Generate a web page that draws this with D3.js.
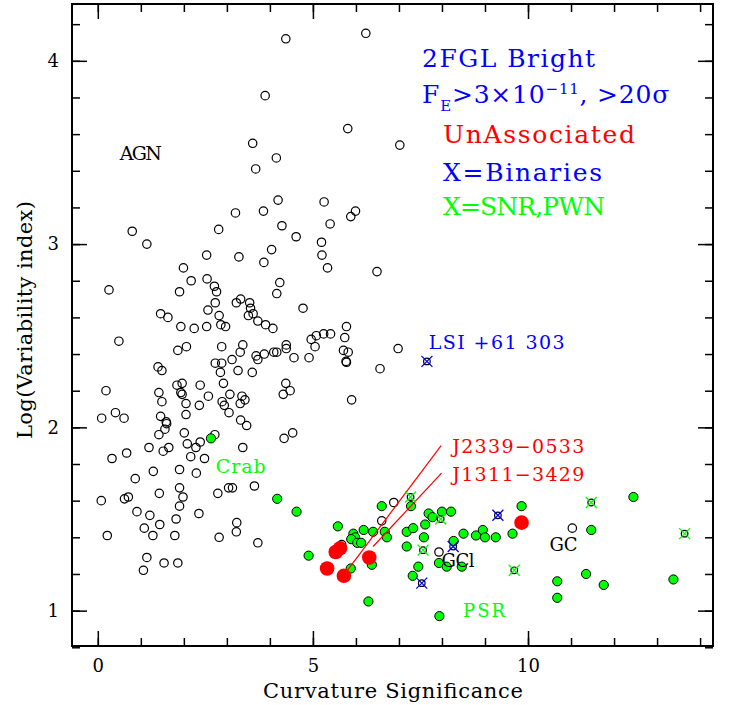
<!DOCTYPE html>
<html>
<head>
<meta charset="utf-8">
<script src="https://cdn.jsdelivr.net/npm/d3@7"></script>
<style>
body { margin: 0; background: #fff; }
text { font-family: "DejaVu Serif", serif; }
</style>
</head>
<body>
<div id="chart"></div>
<script>
// AGN (open circles): [curvature significance, log variability index]
var agnPoints = [
  [4.37,4.12],[6.23,4.15],[3.89,3.81],[5.81,3.63],[3.60,3.55],[4.15,3.47],[3.67,3.41],
  [4.19,3.24],[5.26,3.23],[3.20,3.17],[3.85,3.18],[5.88,3.15],[5.99,3.18],[7.02,3.54],
  [0.80,3.07],[1.14,3.00],[2.81,3.08],[4.28,3.10],[4.61,3.04],[5.20,3.01],[5.40,3.11],
  [2.53,2.94],[3.28,2.93],[4.04,2.97],[3.86,2.90],[5.21,2.94],[5.34,2.87],[6.49,2.85],
  [1.99,2.87],[0.26,2.75],[2.17,2.80],[2.54,2.81],[2.71,2.77],[1.90,2.74],[2.76,2.74],
  [4.23,2.79],[4.16,2.73],[2.73,2.68],[2.56,2.64],[3.22,2.68],[3.32,2.70],[3.53,2.68],
  [3.55,2.65],[4.77,2.65],[1.46,2.62],[1.63,2.60],[2.82,2.61],[3.50,2.61],[3.61,2.62],
  [3.72,2.58],[1.93,2.55],[2.24,2.54],[2.53,2.55],[2.86,2.56],[2.97,2.55],[3.90,2.56],
  [4.07,2.54],[5.78,2.55],[5.74,2.49],[4.96,2.48],[5.08,2.50],[5.25,2.51],[5.41,2.51],
  [5.05,2.44],[0.49,2.47],[1.86,2.42],[2.06,2.44],[2.88,2.44],[3.37,2.45],[3.31,2.41],
  [3.12,2.37],[3.68,2.39],[3.72,2.37],[3.87,2.40],[4.09,2.41],[4.16,2.41],[4.38,2.45],
  [4.38,2.43],[4.56,2.38],[4.91,2.38],[5.71,2.42],[5.82,2.41],[5.77,2.36],[5.78,2.355],
  [6.98,2.43],[6.56,2.32],[1.40,2.33],[1.49,2.31],[2.73,2.35],[2.88,2.35],[2.85,2.30],
  [3.26,2.31],[3.59,2.30],[0.19,2.20],[1.84,2.23],[1.96,2.24],[1.93,2.19],[1.96,2.18],
  [2.38,2.23],[2.92,2.24],[1.42,2.19],[1.49,2.14],[2.05,2.13],[2.57,2.17],[2.36,2.12],
  [3.07,2.18],[2.89,2.14],[2.94,2.12],[3.35,2.17],[3.42,2.15],[3.31,2.13],[4.37,2.24],
  [4.47,2.20],[4.31,2.18],[5.90,2.15],[0.09,2.05],[0.41,2.08],[0.61,2.05],[1.46,2.06],
  [2.05,2.07],[3.05,2.08],[3.32,2.04],[3.46,2.01],[1.59,2.03],[1.60,2.02],[1.42,1.96],
  [1.56,1.99],[2.01,1.97],[2.72,1.96],[1.19,1.89],[1.52,1.87],[1.65,1.89],[2.08,1.91],
  [2.28,1.89],[2.38,1.92],[3.37,1.89],[4.33,1.94],[4.53,1.97],[0.67,1.86],[0.33,1.83],
  [2.16,1.84],[2.48,1.83],[0.87,1.72],[1.29,1.76],[1.90,1.77],[2.29,1.75],[0.08,1.60],
  [0.62,1.61],[0.71,1.62],[1.43,1.64],[1.90,1.67],[1.98,1.62],[2.79,1.64],[3.04,1.67],
  [3.13,1.67],[3.64,1.68],[0.91,1.54],[1.21,1.52],[1.90,1.57],[2.35,1.53],[1.08,1.45],
  [1.44,1.47],[1.82,1.50],[3.23,1.48],[0.22,1.41],[1.28,1.41],[1.79,1.41],[2.82,1.40],
  [3.22,1.43],[3.72,1.37],[1.14,1.29],[1.54,1.26],[1.86,1.26],[1.06,1.22],[6.88,1.59],
  [6.60,1.49],[5.67,1.36],[7.93,1.32],[11.03,1.45]
];

// pulsars and other associated sources (filled green)
var pulsarPoints = [
  [2.63,1.94],[4.17,1.61],[4.62,1.54],[4.90,1.30],[5.58,1.46],[6.18,1.44],[6.40,1.43],
  [6.60,1.57],[6.67,1.43],[6.72,1.40],[5.94,1.42],[5.98,1.40],[5.89,1.39],[6.03,1.37],
  [6.12,1.37],[7.18,1.43],[7.33,1.45],[7.18,1.35],[7.58,1.40],[7.61,1.47],[7.69,1.53],
  [7.78,1.51],[8.00,1.54],[8.21,1.54],[8.50,1.42],[8.79,1.41],[8.95,1.44],[9.00,1.40],
  [9.25,1.40],[7.28,1.57],[8.27,1.38],[7.93,1.26],[8.11,1.24],[8.46,1.24],[7.45,1.24],
  [7.32,1.19],[6.37,1.25],[5.88,1.23],[6.29,1.05],[7.94,0.97],[9.64,1.42],[9.85,1.57],
  [10.68,1.16],[10.68,1.07],[11.35,1.20],[11.76,1.14],[11.47,1.44],[12.45,1.62],[13.38,1.17]
];

// unassociated bright sources (big red)
var unassocPoints = [
  [5.53,1.32],[5.63,1.34],[5.33,1.23],[5.72,1.19],[6.31,1.29],[9.85,1.48]
];

// binaries (blue X) and SNR/PWN (green X)
var binaryPoints = [[7.65,2.36],[8.26,1.35],[7.53,1.15],[9.30,1.52]];
var snrPoints = [[7.27,1.62],[7.56,1.33],[7.97,1.50],[9.68,1.22],[11.47,1.59],[13.64,1.42]];

// red pointer lines from the labels: [x1, y1, x2, y2]
var pointerLines = [[7.98,1.90,5.77,1.21],[7.99,1.75,6.40,1.35]];

var xMajorTicks = [0, 5, 10];
var yMajorTicks = [1, 2, 3, 4];

var labels = [
  {text: "AGN", x: 0.51, y: 3.46, color: "black", size: 19, len: 42},
  {text: "Crab", x: 2.74, y: 1.753, color: "#00ff00", size: 19, len: 50},
  {text: "LSI +61 303", x: 7.69, y: 2.428, color: "blue", size: 19, len: 136},
  {text: "J2339\u22120533", x: 8.24, y: 1.859, color: "red", size: 19, len: 132},
  {text: "J1311\u22123429", x: 8.24, y: 1.709, color: "red", size: 19, len: 132},
  {text: "GCl", x: 7.99, y: 1.24, color: "black", size: 18, len: 33},
  {text: "GC", x: 10.50, y: 1.327, color: "black", size: 18, len: 28},
  {text: "PSR", x: 8.49, y: 0.964, color: "#00ff00", size: 18, len: 42}
];

var svgWidth = 735;
var svgHeight = 705;
var margin = {top: 4, right: 22, bottom: 59, left: 72};
var width = svgWidth - margin.left - margin.right;
var height = svgHeight - margin.top - margin.bottom;

var svg = d3.select("#chart")
    .append("svg")
    .attr("width", svgWidth)
    .attr("height", svgHeight);

var chartGroup = svg.append("g")
    .attr("transform", `translate(${margin.left}, ${margin.top})`);

var x = d3.scaleLinear().domain([-0.6, 14.3]).range([0, width]);
var y = d3.scaleLinear().domain([0.807, 4.31]).range([height, 0]);

// axes, ticks pointing inward
var xMinor = d3.range(0, 15);
var yMinor = d3.range(4, 22).map(d => d / 5);

function styleAxis(g) {
    g.select(".domain").remove();
    g.selectAll("line").attr("stroke", "black").attr("stroke-width", 1.5);
}

chartGroup.append("g")
    .attr("transform", `translate(0, ${height})`)
    .call(d3.axisBottom(x).tickValues(xMinor).tickSize(-8).tickFormat(""))
    .call(styleAxis);
var bottomAxis = chartGroup.append("g")
    .attr("transform", `translate(0, ${height})`)
    .call(d3.axisBottom(x).tickValues(xMajorTicks).tickSize(-15).tickFormat(d3.format("d")))
    .call(styleAxis);
bottomAxis.selectAll("text")
    .attr("y", 26).attr("dy", null)
    .attr("font-size", 18).attr("font-family", "DejaVu Serif").attr("fill", "black");

chartGroup.append("g")
    .call(d3.axisTop(x).tickValues(xMinor).tickSize(-8).tickFormat(""))
    .call(styleAxis);
chartGroup.append("g")
    .call(d3.axisTop(x).tickValues(xMajorTicks).tickSize(-15).tickFormat(""))
    .call(styleAxis);

chartGroup.append("g")
    .call(d3.axisLeft(y).tickValues(yMinor).tickSize(-8).tickFormat(""))
    .call(styleAxis);
var leftAxis = chartGroup.append("g")
    .call(d3.axisLeft(y).tickValues(yMajorTicks).tickSize(-15).tickPadding(13).tickFormat(d3.format("d")))
    .call(styleAxis);
leftAxis.selectAll("text")
    .attr("font-size", 18).attr("font-family", "DejaVu Serif").attr("fill", "black");

chartGroup.append("g")
    .attr("transform", `translate(${width}, 0)`)
    .call(d3.axisRight(y).tickValues(yMinor).tickSize(-8).tickFormat(""))
    .call(styleAxis);
chartGroup.append("g")
    .attr("transform", `translate(${width}, 0)`)
    .call(d3.axisRight(y).tickValues(yMajorTicks).tickSize(-15).tickFormat(""))
    .call(styleAxis);

chartGroup.append("rect")
    .attr("width", width).attr("height", height)
    .attr("fill", "none").attr("stroke", "black").attr("stroke-width", 2);

// axis titles
chartGroup.append("text")
    .attr("x", 263 - margin.left).attr("y", height + 52)
    .attr("font-size", 21)
    .attr("textLength", 260).attr("lengthAdjust", "spacing")
    .text("Curvature Significance");

chartGroup.append("text")
    .attr("transform", `translate(${32 - margin.left}, ${439 - margin.top}) rotate(-90)`)
    .attr("font-size", 21)
    .attr("textLength", 238).attr("lengthAdjust", "spacing")
    .text("Log(Variability index)");

// AGN open circles
chartGroup.selectAll(".agn")
    .data(agnPoints)
    .enter()
    .append("circle")
    .attr("class", "agn")
    .attr("cx", d => x(d[0]))
    .attr("cy", d => y(d[1]))
    .attr("r", 4.2)
    .attr("fill", "none")
    .attr("stroke", "black")
    .attr("stroke-width", 1.2);

// open circles under the X markers
chartGroup.selectAll(".xcirc")
    .data(binaryPoints.concat(snrPoints))
    .enter()
    .append("circle")
    .attr("class", "xcirc")
    .attr("cx", d => x(d[0]))
    .attr("cy", d => y(d[1]))
    .attr("r", 3.3)
    .attr("fill", "none")
    .attr("stroke", "black")
    .attr("stroke-width", 1.2);

// green filled
chartGroup.selectAll(".psr")
    .data(pulsarPoints)
    .enter()
    .append("circle")
    .attr("class", "psr")
    .attr("cx", d => x(d[0]))
    .attr("cy", d => y(d[1]))
    .attr("r", 4.6)
    .attr("fill", "#00ff00")
    .attr("stroke", "black")
    .attr("stroke-width", 1);

// pointer lines
chartGroup.selectAll(".pointer")
    .data(pointerLines)
    .enter()
    .append("line")
    .attr("x1", d => x(d[0])).attr("y1", d => y(d[1]))
    .attr("x2", d => x(d[2])).attr("y2", d => y(d[3]))
    .attr("stroke", "red")
    .attr("stroke-width", 1.2);

// unassociated big red
chartGroup.selectAll(".unassoc")
    .data(unassocPoints)
    .enter()
    .append("circle")
    .attr("cx", d => x(d[0]))
    .attr("cy", d => y(d[1]))
    .attr("r", 7.3)
    .attr("fill", "red");

// X markers
function drawCross(data, color) {
    var s = 5.5;
    var g = chartGroup.append("g");
    g.selectAll("path")
        .data(data)
        .enter()
        .append("path")
        .attr("d", d => {
            var cx = x(d[0]), cy = y(d[1]);
            return `M${cx - s},${cy - s}L${cx + s},${cy + s}M${cx - s},${cy + s}L${cx + s},${cy - s}`;
        })
        .attr("stroke", color)
        .attr("stroke-width", 1.3)
        .attr("fill", "none");
}
drawCross(binaryPoints, "blue");
drawCross(snrPoints, "#00ff00");

// labels in the plot
chartGroup.selectAll(".lbl")
    .data(labels)
    .enter()
    .append("text")
    .attr("x", d => x(d.x))
    .attr("y", d => y(d.y))
    .attr("font-size", d => d.size)
    .attr("fill", d => d.color)
    .attr("textLength", d => d.len)
    .attr("lengthAdjust", "spacing")
    .text(d => d.text);

// legend block
var legend = chartGroup.append("g")
    .attr("font-size", 25);
legend.append("text")
    .attr("x", 422 - margin.left).attr("y", 67 - margin.top)
    .attr("fill", "blue")
    .attr("textLength", 173).attr("lengthAdjust", "spacing")
    .text("2FGL Bright");
var fe = legend.append("text")
    .attr("x", 422 - margin.left).attr("y", 103 - margin.top)
    .attr("fill", "blue")
    .attr("letter-spacing", 0.8);
fe.append("tspan").text("F");
fe.append("tspan").attr("font-size", 15).attr("dy", 8).text("E");
fe.append("tspan").attr("dy", -8).text(">3\u00d710");
fe.append("tspan").attr("font-size", 15).attr("dy", -9).text("\u221211");
fe.append("tspan").attr("dy", 9).text(", >20\u03c3");
legend.append("text")
    .attr("x", 443 - margin.left).attr("y", 143 - margin.top)
    .attr("fill", "red")
    .attr("textLength", 192).attr("lengthAdjust", "spacing")
    .text("UnAssociated");
legend.append("text")
    .attr("x", 443 - margin.left).attr("y", 180.5 - margin.top)
    .attr("fill", "blue")
    .attr("textLength", 159).attr("lengthAdjust", "spacing")
    .text("X=Binaries");
legend.append("text")
    .attr("x", 443 - margin.left).attr("y", 215 - margin.top)
    .attr("fill", "#00ff00")
    .attr("textLength", 162).attr("lengthAdjust", "spacing")
    .text("X=SNR,PWN");
</script>
</body>
</html>
